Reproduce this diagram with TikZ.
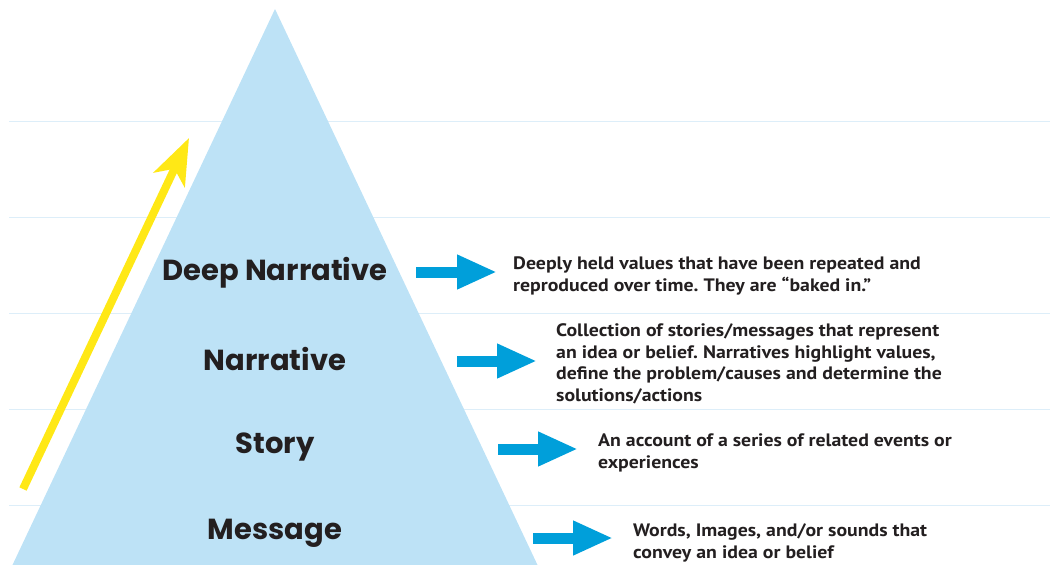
\documentclass[tikz,border=0pt]{standalone}
\usepackage{fontspec}
\setmainfont{PT Sans}[FakeStretch=1.1]
\newfontfamily\labelfont{Poppins}
\usetikzlibrary{arrows.meta}
\definecolor{tri}{HTML}{BDE2F6}
\definecolor{rule}{HTML}{DDEEF9}
\definecolor{arr}{HTML}{009FDA}
\definecolor{yel}{HTML}{FFE816}
\definecolor{ink}{HTML}{231F20}
\tikzset{
  rulel/.style={draw=rule, line width=1pt},
  lvl/.style={font=\labelfont\bfseries\fontsize{29}{32}\selectfont, text=ink, inner sep=0pt},
  desc/.style={font=\bfseries\fontsize{18}{21.5}\selectfont, text=ink, align=left, anchor=west, inner sep=0pt},
  bluearrow/.style={draw=arr, line width=11pt, -{Triangle[length=40pt,width=32pt]}},
  yelarrow/.style={draw=yel, line width=8pt, -{Stealth[length=46pt,width=34pt,inset=12pt]}}
}
\frenchspacing
\begin{document}
\begin{tikzpicture}[x=1pt,y=-1pt]
\useasboundingbox (0,0) rectangle (1050,565);
% rules
\foreach \yy in {121,217,313,409,505} \draw[rulel] (9,\yy) -- (1050,\yy);
% triangle
\fill[tri] (275,9) -- (538,566) -- (12,566) -- cycle;
% yellow arrow
\coordinate (ys) at (23,489);
\coordinate (ye) at (189,138);
\draw[yelarrow] (ys) -- (ye);
% level labels
\node[lvl] (dn) at (275,273) {Deep Narrative};
\node[lvl] (na) at (275,359) {Narrative};
\node[lvl] (st) at (275,447) {Story};
\node[lvl] (me) at (275,533) {Message};
% descriptions
\node[desc] (d1) at (513,276) {Deeply held values that have been repeated and\\reproduced over time. They are ``baked in.''};
\node[desc] (d2) at (556,364) {Collection of stories/messages that represent\\an idea or belief. Narratives highlight values,\\define the problem/causes and determine the\\solutions/actions};
\node[desc] (d3) at (598,453) {An account of a series of related events or\\experiences};
\node[desc] (d4) at (633,543) {Words, Images, and/or sounds that\\convey an idea or belief};
% blue arrows
\coordinate (a1s) at (416,272); \coordinate (a1e) at (497,272);
\coordinate (a2s) at (457,361); \coordinate (a2e) at (537,361);
\coordinate (a3s) at (498,449); \coordinate (a3e) at (578,449);
\coordinate (a4s) at (533,538); \coordinate (a4e) at (613,538);
\draw[bluearrow] (a1s) -- (a1e);
\draw[bluearrow] (a2s) -- (a2e);
\draw[bluearrow] (a3s) -- (a3e);
\draw[bluearrow] (a4s) -- (a4e);
\end{tikzpicture}
\end{document}
